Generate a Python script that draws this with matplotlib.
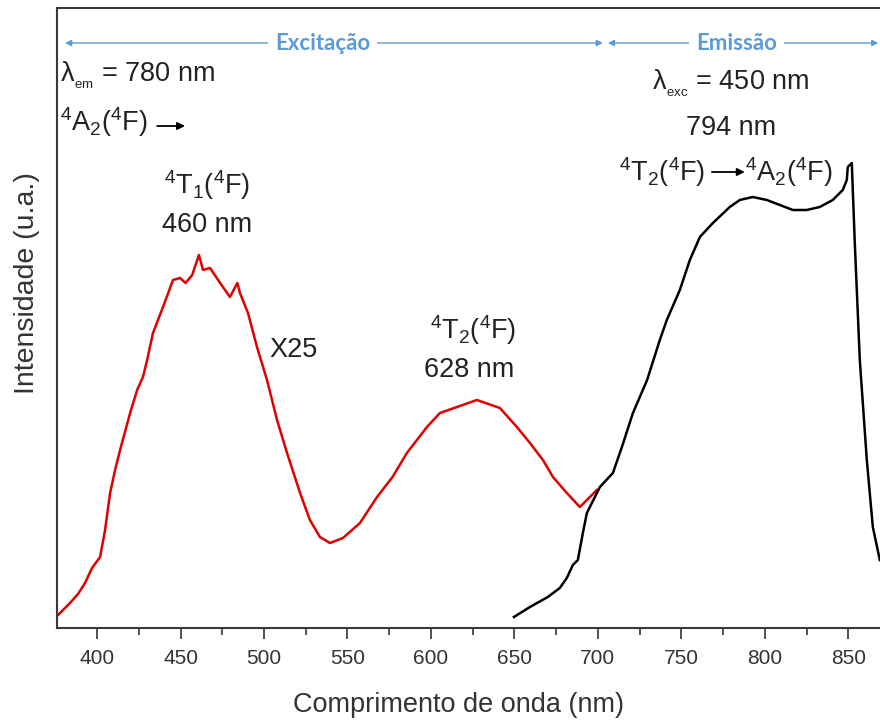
import matplotlib
matplotlib.use("Agg")
from matplotlib import pyplot as plt
from matplotlib.ticker import MultipleLocator

plt.rcParams['font.family'] = ['Liberation Sans', 'DejaVu Sans']
plt.rcParams['mathtext.default'] = 'regular'

# excitation spectrum (x25)
exc_nm = [376, 379.6, 383.8, 388.6, 392.8, 397, 401.8, 404.8, 407.8, 410.8, 413.8,
          419.8, 424, 427.5, 430, 433.5, 439.5, 445.5, 449.7, 453, 457, 461,
          463.5, 467.7, 473.7, 479.6, 484, 485.6, 490.4, 495.8, 501.8, 507.8,
          513.8, 521.6, 527.5, 533.5, 539.5, 547.3, 557.5, 567.7, 577, 585.6,
          597.6, 605.4, 615.6, 627.5, 641.3, 651.5, 659.3, 667.1, 673.1, 681.4,
          689.2, 693.4, 699.4]
exc_int = [12, 18, 25, 34, 45, 60, 71, 98, 135, 158, 178,
           215, 238, 251, 268, 295, 321, 348, 350, 345, 353, 373,
           358, 360, 345, 331, 345, 335, 315, 281, 248, 208,
           175, 135, 108, 91, 85, 90, 105, 131, 151, 175,
           201, 215, 221, 228, 220, 201, 185, 168, 151, 135,
           121, 128, 138]

# emission spectrum (lambda_exc = 450 nm)
em_nm = [649.7, 659.3, 670, 677.2, 681.4, 685, 688, 691, 693.4, 701.2, 709,
         714.4, 721, 729.5, 737.1, 741.3, 749.1, 755.1, 761.1, 768.9, 779,
         785, 792.8, 801.2, 809, 816.8, 825.1, 832.9, 840.7, 846.7, 849.1,
         849.7, 852.1, 853.9, 856.9, 861.1, 864.7, 868.9]
em_int = [11, 21, 31, 40, 50, 63, 68, 95, 115, 141, 155,
          181, 215, 248, 288, 308, 338, 368, 391, 405, 421,
          428, 431, 428, 423, 418, 418, 421, 428, 438, 448,
          461, 465, 385, 268, 168, 101, 68]

x_ticks = [400, 450, 500, 550, 600, 650, 700, 750, 800, 850]

fig = plt.figure(figsize=(8.8, 7.2), dpi=100)
ax = fig.add_axes([57 / 880, 92 / 720, 1 - 57 / 880, 620 / 720])

ax.plot(exc_nm, exc_int, color='#e00000', lw=1.8)
ax.plot(em_nm, em_int, color='black', lw=1.8)

ax.set_xlim(376, 869)
ax.set_ylim(0, 620)
ax.set_xticks(x_ticks)
ax.xaxis.set_minor_locator(MultipleLocator(25))
ax.set_yticks([])
ax.tick_params(axis='x', which='major', direction='out', length=8, width=1.2,
               colors='#333333', labelsize=15, pad=7)
ax.tick_params(axis='x', which='minor', direction='out', length=5, width=1.2,
               colors='#333333')
for s in ['left', 'top', 'bottom']:
    ax.spines[s].set_color('#3a3a3a')
    ax.spines[s].set_linewidth(1.5)
ax.spines['right'].set_visible(False)

fig.text(458 / 880, 1 - 705 / 720, 'Comprimento de onda (nm)', fontsize=19.5,
         color='#333333', ha='center', va='center')
fig.text(27 / 880, 1 - 283 / 720, 'Intensidade (u.a.)', fontsize=20.5,
         color='#333333', ha='center', va='center', rotation=90)

# blue range markers
blue = '#5b9bd5'
arr = dict(arrowstyle='<|-|>', color=blue, lw=1.0, mutation_scale=9,
           shrinkA=0, shrinkB=0)
ax.annotate('', xy=(380.8, 585), xytext=(703, 585), arrowprops=arr)
ax.annotate('', xy=(706, 585), xytext=(868, 585), arrowprops=arr)
box = dict(facecolor='white', edgecolor='none', pad=5)
ax.text(535.3, 585, 'Excitação', color=blue, fontsize=16, fontweight='bold',
        family='Lato', ha='center', va='center', bbox=box)
ax.text(783, 585, 'Emissão', color=blue, fontsize=16, fontweight='bold',
        family='Lato', ha='center', va='center', bbox=box)

tc = '#222222'
fs = 19.5
ax.text(377.8, 553, r'$\lambda_{_{em}}$ = 780 nm', fontsize=fs, color=tc,
        ha='left', va='center')
ax.text(377.8, 506, r'$^{4}$A$_{2}$($^{4}$F)', fontsize=fs, color=tc,
        ha='left', va='center')
small_arr = dict(arrowstyle='-|>', color='black', lw=1.3, mutation_scale=11,
                 shrinkA=0, shrinkB=0)
ax.annotate('', xy=(452.7, 502), xytext=(436, 502), arrowprops=small_arr)

ax.text(465.9, 443, r'$^{4}$T$_{1}$($^{4}$F)', fontsize=fs, color=tc,
        ha='center', va='center')
ax.text(465.9, 403, '460 nm', fontsize=fs, color=tc, ha='center', va='center')
ax.text(517.4, 278, 'X25', fontsize=fs, color=tc, ha='center', va='center')
ax.text(625, 298, r'$^{4}$T$_{2}$($^{4}$F)', fontsize=fs, color=tc,
        ha='center', va='center')
ax.text(623, 258, '628 nm', fontsize=fs, color=tc, ha='center', va='center')

ax.text(779.6, 545, r'$\lambda_{_{exc}}$ = 450 nm', fontsize=fs, color=tc,
        ha='center', va='center')
ax.text(779.6, 500, '794 nm', fontsize=fs, color=tc, ha='center', va='center')
ax.text(764.1, 456, r'$^{4}$T$_{2}$($^{4}$F)', fontsize=fs, color=tc,
        ha='right', va='center')
ax.annotate('', xy=(788, 456), xytext=(768.3, 456), arrowprops=small_arr)
ax.text(788, 456, r'$^{4}$A$_{2}$($^{4}$F)', fontsize=fs, color=tc,
        ha='left', va='center')

fig.savefig('out.png', dpi=100)
